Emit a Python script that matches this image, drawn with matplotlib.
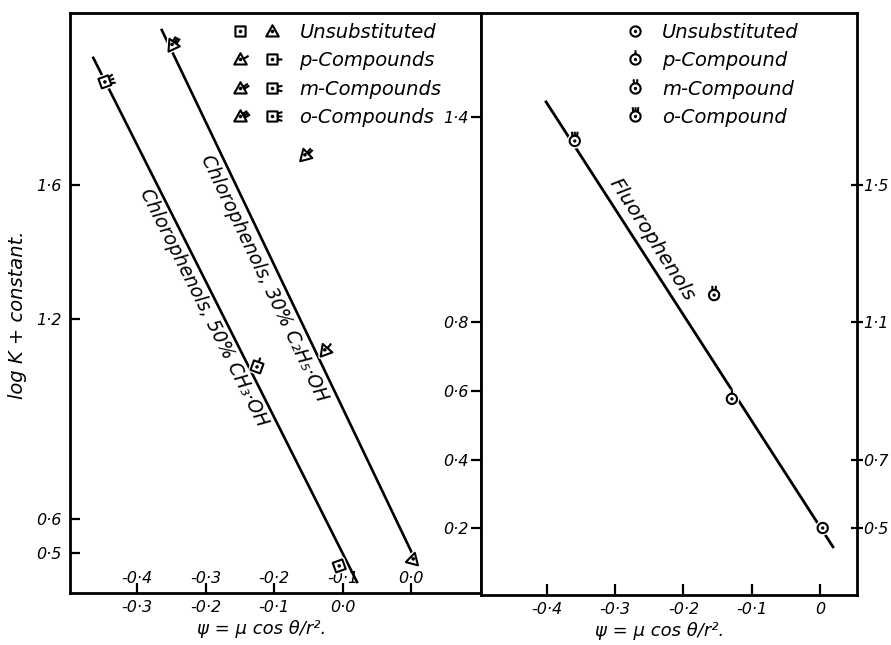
import numpy as np
import matplotlib
matplotlib.use('Agg')
import matplotlib.pyplot as plt
from matplotlib.path import Path
from matplotlib.lines import Line2D
from matplotlib.legend_handler import HandlerTuple
import matplotlib.patheffects as pe

plt.rcParams['font.family'] = 'DejaVu Sans'
plt.rcParams['font.style'] = 'italic'

# --- chlorophenols in 30% ethanol (triangles), upper psi scale
eth_kind = ['o', 'm', 'p', 'u']
eth_psi = [-0.349, -0.155, -0.126, 0.003]
eth_logk = [2.02, 1.69, 1.107, 0.482]
eth_fit_psi = [-0.364, 0.006]
eth_fit_logk = [2.063, 0.479]

# --- chlorophenols in 50% methanol (squares), lower psi scale
meth_kind = ['o', 'p', 'u']
meth_psi = [-0.347, -0.125, -0.005]
meth_logk = [1.908, 1.056, 0.461]
meth_fit_psi = [-0.364, 0.021]
meth_fit_logk = [1.98, 0.413]

# --- fluorophenols (circles)
fl_kind = ['o', 'm', 'p', 'u']
fl_psi = [-0.359, -0.155, -0.129, 0.004]
fl_logk = [1.33, 0.88, 0.577, 0.2]
fl_fit_psi = [-0.401, 0.019]
fl_fit_logk = [1.444, 0.145]

left_yticks = [1.6, 1.2, 0.6, 0.5]
eth_xticks = [-0.4, -0.3, -0.2, -0.1, 0.0]
meth_xticks = [-0.3, -0.2, -0.1, 0.0]
fl_xticks = [-0.4, -0.3, -0.2, -0.1, 0.0]
fl_xlabels = ['-0·4', '-0·3', '-0·2', '-0·1', '0']
fl_yticks = [1.4, 0.8, 0.6, 0.4, 0.2]
fl_yticks_right = [1.5, 1.1, 0.7, 0.5]

left_legend = ['Unsubstituted', 'p-Compounds', 'm-Compounds', 'o-Compounds']
right_legend = ['Unsubstituted', 'p-Compound', 'm-Compound', 'o-Compound']

n_strokes = {'u': 0, 'p': 1, 'm': 2, 'o': 3}
base_size = {'tri': 9.0, 'sq': 8.6, 'circ': 7.4}


def fmt(v):
    return f'{v:.1f}'.replace('.', '·')


def glyph(shape, kind, rot=0.0):
    """outline + centre dot + little strokes for the substituent position"""
    n = n_strokes[kind]
    if shape == 'tri':
        outline = [(-1.0, -0.8), (1.0, -0.8), (0.0, 1.0)]
        anchors = {0: [], 1: [(0.5, 0.1)], 2: [(0.38, 0.25), (0.6, -0.05)],
                   3: [(0.28, 0.38), (0.5, 0.1), (0.72, -0.18)]}[n]
        strokes = [(a, (a[0] + 0.8, a[1] + 0.5)) for a in anchors]
    elif shape == 'sq':
        outline = [(-0.85, -0.85), (0.85, -0.85), (0.85, 0.85), (-0.85, 0.85)]
        anchors = {0: [], 1: [(0.85, 0.0)], 2: [(0.85, 0.3), (0.85, -0.3)],
                   3: [(0.85, 0.5), (0.85, 0.0), (0.85, -0.5)]}[n]
        strokes = [(a, (1.65, a[1] * 1.5)) for a in anchors]
    else:
        t = np.linspace(0, 2 * np.pi, 24, endpoint=False)
        outline = list(zip(np.cos(t), np.sin(t)))
        xs = {0: [], 1: [0.0], 2: [-0.3, 0.3], 3: [-0.45, 0.0, 0.45]}[n]
        strokes = [((x, np.sqrt(1 - x * x)), (x * 1.2, 1.8)) for x in xs]

    verts, codes = [], []
    verts += outline + [outline[0]]
    codes += [Path.MOVETO] + [Path.LINETO] * (len(outline) - 1) + [Path.CLOSEPOLY]
    t = np.linspace(0, 2 * np.pi, 8, endpoint=False)
    dot = list(zip(0.13 * np.cos(t), 0.13 * np.sin(t)))
    verts += dot + [dot[0]]
    codes += [Path.MOVETO] + [Path.LINETO] * (len(dot) - 1) + [Path.CLOSEPOLY]
    for a, b in strokes:
        verts += [a, b]
        codes += [Path.MOVETO, Path.LINETO]

    v = np.array(verts, dtype=float)
    r = np.radians(rot)
    rm = np.array([[np.cos(r), -np.sin(r)], [np.sin(r), np.cos(r)]])
    v = v @ rm.T
    extent = np.abs(v).max()
    return Path(v, codes), base_size[shape] * extent


halo = [pe.withStroke(linewidth=3.5, foreground='white')]


def point(ax, x, y, shape, kind, rot=0.0):
    path, ms = glyph(shape, kind, rot)
    ax.plot([x], [y], ls='none', marker=path, ms=ms, mfc='white', mec='black',
            mew=1.5, zorder=5, path_effects=halo)


def handle(shape, kind):
    path, ms = glyph(shape, kind)
    return Line2D([], [], ls='none', marker=path, ms=ms, mfc='white',
                  mec='black', mew=1.5)


def screen_angle(ax, x, y):
    p = ax.transData.transform(np.column_stack([x, y]))
    d = p[-1] - p[0]
    return np.degrees(np.arctan2(d[1], d[0]))


fig = plt.figure(figsize=(8.91, 6.45), dpi=100)
W, H = 891, 645

# ---------------- left panel (chlorophenols)
ax1 = fig.add_axes([70 / W, 1 - 593 / H, 411 / W, 580 / H])
ax1.set_xlim(-0.498, 0.102)
ax1.set_ylim(0.38, 2.114)
ax1m = ax1.twiny()
ax1m.set_xlim(-0.398, 0.202)

ax1.plot(eth_fit_psi, eth_fit_logk, color='black', lw=1.9, zorder=3)
ax1m.plot(meth_fit_psi, meth_fit_logk, color='black', lw=1.9, zorder=3)

eth_rot = {'o': 25, 'm': 15, 'p': 20, 'u': -15}
for k, x, y in zip(eth_kind, eth_psi, eth_logk):
    point(ax1, x, y, 'tri', k, eth_rot[k])
meth_rot = {'o': 20, 'p': 70, 'u': 20}
for k, x, y in zip(meth_kind, meth_psi, meth_logk):
    point(ax1m, x, y, 'sq', k, meth_rot[k])

for s in ax1.spines.values():
    s.set_linewidth(2.0)
for s in ax1m.spines.values():
    s.set_visible(False)

ax1.set_yticks(left_yticks, labels=[fmt(v) for v in left_yticks])
ax1.tick_params(axis='y', direction='in', length=7, width=1.6, pad=6, labelsize=11.5)
ax1.set_xticks(eth_xticks, labels=[fmt(v) for v in eth_xticks])
ax1.tick_params(axis='x', direction='in', length=7, width=1.6, pad=-16, labelsize=11.5)
ax1m.xaxis.set_ticks_position('bottom')
ax1m.xaxis.set_label_position('bottom')
ax1m.set_xticks(meth_xticks, labels=[fmt(v) for v in meth_xticks])
ax1m.tick_params(axis='x', length=0, pad=5, labelsize=11.5)

ax1.set_ylabel('log K + constant.', fontsize=14)
ax1.yaxis.set_label_coords(-0.105, 0.479)
ax1.text(0.467, -0.062, 'ψ = μ cos θ/r².', transform=ax1.transAxes,
         ha='center', va='center', fontsize=13)

a = screen_angle(ax1, eth_fit_psi, eth_fit_logk)
ax1.text(-0.2146, 1.322, 'Chlorophenols, 30% C₂H₅·OH', rotation=a,
         rotation_mode='anchor', ha='center', va='center', fontsize=13.5)
a = screen_angle(ax1m, meth_fit_psi, meth_fit_logk)
ax1.text(-0.302, 1.232, 'Chlorophenols, 50% CH₃·OH', rotation=a,
         rotation_mode='anchor', ha='center', va='center', fontsize=13.5)

hl = [(handle('sq', 'u'), handle('tri', 'u'))] + \
     [(handle('tri', k), handle('sq', k)) for k in ['p', 'm', 'o']]
ax1.legend(hl, left_legend, handler_map={tuple: HandlerTuple(ndivide=None, pad=0.82)},
           loc='upper left', bbox_to_anchor=(0.394, 0.983), frameon=False,
           fontsize=14, handlelength=2.47, handletextpad=1.0, labelspacing=0.48,
           borderpad=0, borderaxespad=0)

# ---------------- right panel (fluorophenols)
ax2 = fig.add_axes([481 / W, 1 - 595 / H, 376 / W, 582 / H])
ax2.set_xlim(-0.4963, 0.0542)
ax2.set_ylim(0.0044, 1.7036)
ax2r = ax2.twinx()
ax2r.set_ylim(0.3044, 2.0036)

ax2.plot(fl_fit_psi, fl_fit_logk, color='black', lw=2.0, zorder=3)
for k, x, y in zip(fl_kind, fl_psi, fl_logk):
    point(ax2, x, y, 'circ', k)

for s in ax2.spines.values():
    s.set_linewidth(2.0)
for s in ax2r.spines.values():
    s.set_visible(False)

ax2.set_xticks(fl_xticks, labels=fl_xlabels)
ax2.tick_params(axis='x', direction='in', length=8, width=1.6, pad=5, labelsize=11.5)
ax2.set_yticks(fl_yticks, labels=[fmt(v) for v in fl_yticks])
ax2.tick_params(axis='y', direction='out', length=7, width=1.6, pad=2, labelsize=11.5)
ax2r.set_yticks(fl_yticks_right, labels=[fmt(v) for v in fl_yticks_right])
ax2r.tick_params(axis='y', direction='inout', length=8, width=1.6, pad=0.5, labelsize=11.5)

ax2.text(0.476, -0.062, 'ψ = μ cos θ/r².', transform=ax2.transAxes,
         ha='center', va='center', fontsize=13)

a = screen_angle(ax2, fl_fit_psi, fl_fit_logk)
ax2.text(-0.246, 1.041, 'Fluorophenols', rotation=a, rotation_mode='anchor',
         ha='center', va='center', fontsize=14.5)

hr = [handle('circ', k) for k in ['u', 'p', 'm', 'o']]
ax2.legend(hr, right_legend, loc='upper left', bbox_to_anchor=(0.388, 0.983),
           frameon=False, fontsize=14, handlelength=0.8, handletextpad=1.0,
           labelspacing=0.48, borderpad=0, borderaxespad=0)

fig.savefig('out.png', dpi=100)
